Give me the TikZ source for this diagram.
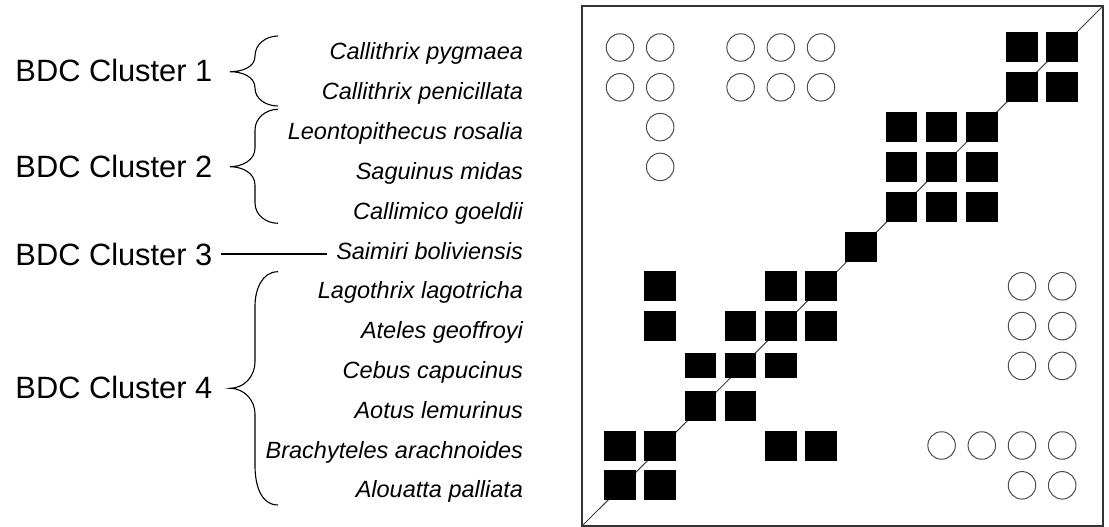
\documentclass[tikz,border=0pt]{standalone}
\usepackage{fontspec}
\setmainfont{Liberation Sans}

\begin{document}
\begin{tikzpicture}[x=1pt,y=-1pt,line width=1pt]
\tikzset{cluster/.style={anchor=west,inner sep=0pt,font=\fontsize{30.8}{36}\selectfont},
  species/.style={anchor=base east,inner sep=0pt,font=\fontsize{23.5}{28}\selectfont\itshape},
  brace/.style={line width=1.1pt,black},
  hit/.style={fill=black,draw=none,minimum width=31.5pt,minimum height=30pt,inner sep=0pt},
  miss/.style={circle,draw=black!70,line width=1pt,minimum size=27.5pt,inner sep=0pt}}
\useasboundingbox (0,0) rectangle (1109,527);
% ---------- cluster labels ----------
\node[cluster] (c1) at (15,70.8)  {BDC Cluster 1};
\node[cluster] (c2) at (15,166.7) {BDC Cluster 2};
\node[cluster] (c3) at (15,254)   {BDC Cluster 3};
\node[cluster] (c4) at (15,387.5) {BDC Cluster 4};
% ---------- species, one per matrix row ----------
\node[species] (sp1)  at (523.5,60)    {Callithrix pygmaea};
\node[species] (sp2)  at (523.5,99.8)  {Callithrix penicillata};
\node[species] (sp3)  at (523.5,139.6) {Leontopithecus rosalia};
\node[species] (sp4)  at (523.5,179.4) {Saguinus midas};
\node[species] (sp5)  at (523.5,219.2) {Callimico goeldii};
\node[species] (sp6)  at (523.5,259)   {Saimiri boliviensis};
\node[species] (sp7)  at (523.5,298.8) {Lagothrix lagotricha};
\node[species] (sp8)  at (523.5,338.6) {Ateles geoffroyi};
\node[species] (sp9)  at (523.5,378.4) {Cebus capucinus};
\node[species] (sp10) at (523.5,418.2) {Aotus lemurinus};
\node[species] (sp11) at (523.5,458)   {Brachyteles arachnoides};
\node[species] (sp12) at (523.5,497.8) {Alouatta palliata};
% ---------- braces from label to its species ----------
\draw[brace] (278,36) to[out=180,in=90] (255,56) to[out=-90,in=0] (230,71.7)
  to[out=0,in=90] (255,88) to[out=-90,in=180] (278,106);                  % cluster 1
\draw[brace] (278,109.3) to[out=180,in=90] (255,130) -- (255,148) to[out=-90,in=0] (230,166.7)
  to[out=0,in=90] (255,185) -- (255,203) to[out=-90,in=180] (278,223.3);  % cluster 2
\draw[brace] (278,271.7) to[out=180,in=90] (255,306) -- (255,362) to[out=-90,in=0] (230,388.3)
  to[out=0,in=90] (255,414) -- (255,466) to[out=-90,in=180] (278,505);    % cluster 4
\draw[line width=1.1pt,shorten <=8pt,shorten >=9pt] (c3.east) -- (c3.east -| sp6.west); % cluster 3
% ---------- matrix frame and diagonal ----------
\coordinate (box-nw) at (582,6);
\coordinate (box-se) at (1103,526);
\draw[black!80,line width=1.2pt] (box-nw) rectangle (box-se);
\draw[black!75] (box-nw |- box-se) -- (box-nw -| box-se);
\begin{scope}[shift={(579.8,7.7)},x=40.2pt,y=-39.8pt]
  % filled squares
  \foreach \rr/\cc in {1/11,1/12,2/11,2/12,3/8,3/9,3/10,4/8,4/9,4/10,5/8,5/9,5/10,6/7,
      7/2,7/5,7/6,8/2,8/4,8/5,8/6,10/3,10/4,11/1,11/2,11/5,11/6,12/1,12/2}
    \node[hit] (h-\rr-\cc) at (\cc,\rr) {};
  \foreach \cc in {3,4,5}
    \node[hit,minimum height=25pt] (h-9-\cc) at (\cc,9) {};   % row 9 boxes are lower
  % open circles
  \foreach \rr/\cc in {1/1,1/2,1/4,1/5,1/6,2/1,2/2,2/4,2/5,2/6,3/2,4/2,
      7/11,7/12,8/11,8/12,9/11,9/12,11/9,11/10,11/11,11/12,12/11,12/12}
    \node[miss] (m-\rr-\cc) at (\cc,\rr) {};
\end{scope}
\end{tikzpicture}
\end{document}
